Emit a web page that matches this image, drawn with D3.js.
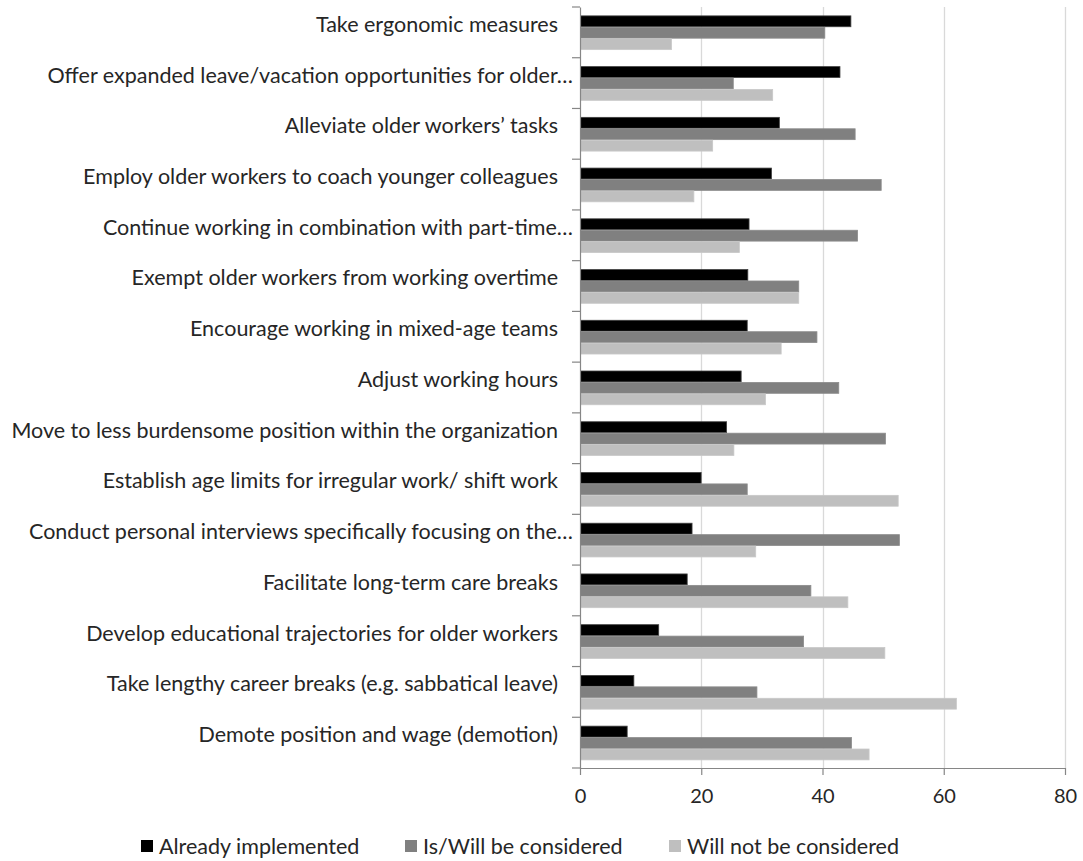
<!DOCTYPE html>
<html>
<head>
<meta charset="utf-8">
<script src="https://cdn.jsdelivr.net/npm/d3@7/dist/d3.min.js"></script>
<style>
  body { margin: 0; background: #ffffff; }
  svg text { font-family: Lato, 'Noto Sans', sans-serif; fill: #262626; }
</style>
</head>
<body>
<script>
'use strict';

// Measures, top to bottom as in the chart
const categories = [
	'Take ergonomic measures',
	'Offer expanded leave/vacation opportunities for older…',
	'Alleviate older workers’ tasks',
	'Employ older workers to coach younger colleagues',
	'Continue working in combination with part-time…',
	'Exempt older workers from working overtime',
	'Encourage working in mixed-age teams',
	'Adjust working hours',
	'Move to less burdensome position within the organization',
	'Establish age limits for irregular work/ shift work',
	'Conduct personal interviews specifically focusing on the…',
	'Facilitate long-term care breaks',
	'Develop educational trajectories for older workers',
	'Take lengthy career breaks (e.g. sabbatical leave)',
	'Demote position and wage (demotion)'
];

const seriesNames = ['Already implemented', 'Is/Will be considered', 'Will not be considered'];

const alreadyImplemented  = [44.6, 42.8, 32.8, 31.5, 27.8, 27.6, 27.5, 26.5, 24.1, 19.9, 18.4, 17.6, 12.9, 8.8, 7.7];
const isWillBeConsidered  = [40.3, 25.2, 45.3, 49.6, 45.7, 36.0, 39.0, 42.6, 50.3, 27.5, 52.6, 38.0, 36.8, 29.1, 44.7];
const willNotBeConsidered = [15.0, 31.7, 21.8, 18.7, 26.2, 36.0, 33.1, 30.5, 25.3, 52.4, 28.9, 44.1, 50.2, 62.0, 47.6];

const xTicks = [0, 20, 40, 60, 80];

const DIMENSIONS = {
	'canvas'  : { 'width': 1083, 'height': 861 },
	'margins' : { 'left': 580, 'top': 7, 'right': 18, 'bottom': 93 }
};
const chartWidth  = DIMENSIONS.canvas.width - DIMENSIONS.margins.left - DIMENSIONS.margins.right;
const chartHeight = DIMENSIONS.canvas.height - DIMENSIONS.margins.top - DIMENSIONS.margins.bottom;

const colours = ['#000000', '#808080', '#bfbfbf'];
const strokes = ['#404040', '#8c8c8c', '#c8c8c8'];

const series = [alreadyImplemented, isWillBeConsidered, willNotBeConsidered];
let rows = categories.map((c, i) => ({
	name: c,
	values: series.map((s, k) => ({ key: k, value: s[i] }))
}));

let xScale = d3.scaleLinear().domain([0, 80]).range([0, chartWidth]);
let yScale = d3.scaleBand().domain(categories).range([0, chartHeight]).padding(0);
let inner  = d3.scaleBand().domain([0, 1, 2])
	.range([yScale.bandwidth() * 0.175, yScale.bandwidth() * 0.84])
	.paddingInner(0.05);

let svg = d3.select('body').append('svg')
	.attr('width', DIMENSIONS.canvas.width)
	.attr('height', DIMENSIONS.canvas.height);
let chart = svg.append('g')
	.attr('transform', 'translate(' + DIMENSIONS.margins.left + ', ' + DIMENSIONS.margins.top + ')');

// Vertical grid lines
chart.append('g').selectAll('line')
	.data(xTicks.slice(1))
	.enter().append('line')
	.attr('x1', (d) => Math.round(xScale(d)) + 0.5)
	.attr('x2', (d) => Math.round(xScale(d)) + 0.5)
	.attr('y1', 0)
	.attr('y2', chartHeight)
	.attr('stroke', '#d9d9d9')
	.attr('stroke-width', 1.3);

// Bars
let groups = chart.selectAll('.row')
	.data(rows)
	.enter().append('g')
	.attr('class', 'row')
	.attr('transform', (d) => 'translate(0, ' + yScale(d.name) + ')');

groups.selectAll('rect')
	.data((d) => d.values)
	.enter().append('rect')
	.attr('x', 0.5)
	.attr('y', (d) => inner(d.key))
	.attr('width', (d) => xScale(d.value))
	.attr('height', inner.bandwidth())
	.attr('fill', (d) => colours[d.key])
	.attr('stroke', (d) => strokes[d.key])
	.attr('stroke-width', 0.8);

// Axes
let xAxis = d3.axisBottom(xScale).tickValues(xTicks).tickSize(7).tickPadding(14).tickSizeOuter(0);
let yAxis = d3.axisLeft(yScale).tickSize(0).tickFormat('');

let gx = chart.append('g')
	.attr('transform', 'translate(0, ' + chartHeight + ')')
	.call(xAxis);
gx.select('.domain').attr('stroke', '#868686').attr('stroke-width', 1.2);
gx.selectAll('.tick line').attr('stroke', '#868686').attr('stroke-width', 1.2);
gx.selectAll('.tick text').attr('font-size', 20).attr('fill', '#262626');

let gy = chart.append('g').call(yAxis);
gy.select('.domain').attr('stroke', '#868686').attr('stroke-width', 1.2);

// Category boundary ticks on the y axis
chart.append('g').selectAll('line')
	.data(d3.range(categories.length + 1))
	.enter().append('line')
	.attr('x1', -8)
	.attr('x2', 0)
	.attr('y1', (d) => d * yScale.step())
	.attr('y2', (d) => d * yScale.step())
	.attr('stroke', '#868686')
	.attr('stroke-width', 1.2);

// Category labels, right aligned; truncated ones sit a bit further right
chart.append('g').selectAll('text')
	.data(categories)
	.enter().append('text')
	.attr('x', (d) => d.endsWith('…') ? -7 : -22)
	.attr('y', (d) => yScale(d) + yScale.bandwidth() * 0.34)
	.attr('dy', '0.35em')
	.attr('text-anchor', 'end')
	.attr('font-size', 21.5)
	.text((d) => d);

// Legend
let legendX = [141, 405, 669];
let legend = svg.append('g').attr('transform', 'translate(0, 846)');
let items = legend.selectAll('g')
	.data(seriesNames)
	.enter().append('g')
	.attr('transform', (d, i) => 'translate(' + legendX[i] + ', 0)');
items.append('rect')
	.attr('x', 0).attr('y', -6)
	.attr('width', 12).attr('height', 12)
	.attr('fill', (d, i) => colours[i]);
items.append('text')
	.attr('x', 18)
	.attr('y', 0)
	.attr('dy', '0.35em')
	.attr('font-size', 21.5)
	.text((d) => d);
</script>
</body>
</html>
